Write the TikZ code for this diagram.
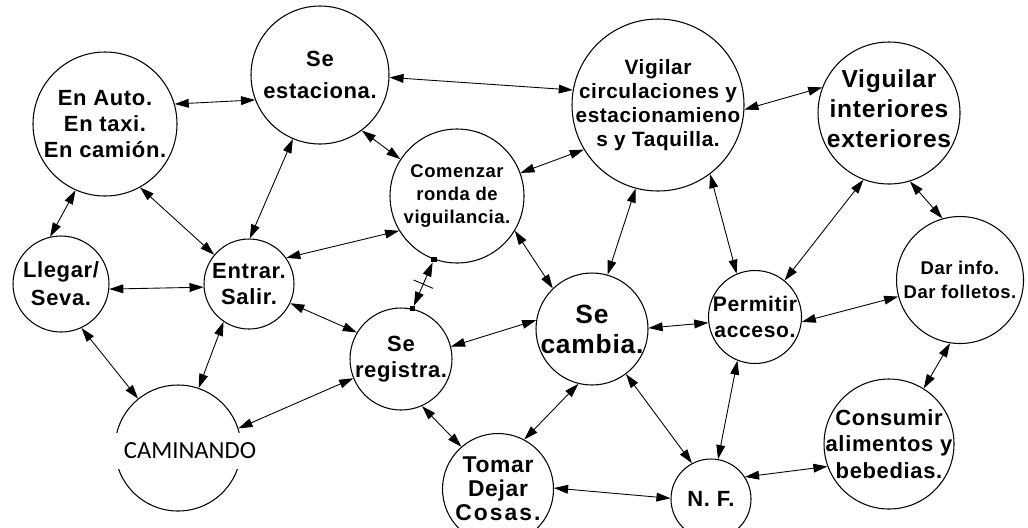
\documentclass[tikz,border=0pt]{standalone}
\usepackage{fontspec}
\setmainfont{Liberation Sans}[LetterSpace=3]
\newfontfamily\calibfont{Carlito}
\usetikzlibrary{arrows.meta,calc}
\newcommand{\szf}[2]{\fontsize{#1}{#2}\selectfont\bfseries}

\begin{document}
\begin{tikzpicture}[x=0.2mm, y=-0.2mm,
    bub/.style={circle, draw, line width=0.6pt, inner sep=0pt, minimum size=2*#1*0.2mm},
    txt/.style={align=center, inner sep=0pt},
    link/.style={<->, >={Triangle[length=8pt,width=5pt]}, line width=0.5pt},
    sqr/.style={rectangle, fill, inner sep=0pt, minimum size=3pt}]
    \useasboundingbox (0,0) rectangle (1028,527);

    % circles
    \node[bub=72] (auto) at (105,124) {};
    \node[bub=69] (estaciona) at (320,75) {};
    \node[bub=86] (vigcirc) at (658,105) {};
    \node[bub=71] (vigint) at (889,113) {};
    \node[bub=67] (ronda) at (457,196) {};
    \node[bub=48] (llegar) at (61,284) {};
    \node[bub=45] (entrar) at (249,284) {};
    \node[bub=63] (caminando) at (178,448) {};
    \node[bub=51] (registra) at (401,359) {};
    \node[bub=56] (cambia) at (592,329) {};
    \node[bub=46.5] (permitir) at (755,317) {};
    \node[bub=63.5] (darinfo) at (960,280) {};
    \node[bub=65] (consumir) at (889,444) {};
    \node[bub=55.5] (tomar) at (498,489) {};
    \node[bub=40] (nf) at (711,499) {};

    % texts
    \node[txt, font=\szf{12.5}{15}] (autotxt) at (auto) {En Auto.\\En taxi.\\En camión.};
    \node[txt, font=\szf{12.5}{18}] (estacionatxt) at (estaciona) {Se\\estaciona.};
    \node[txt, font=\szf{11.8}{13.6}] (vigcirctxt) at (vigcirc) {Vigilar\\circulaciones y\\estacionamieno\\s y Taquilla.};
    \node[txt, font=\szf{14}{17}] (viginttxt) at (889,109) {Viguilar\\interiores\\exteriores};
    \node[txt, font=\szf{10.5}{13}] (rondatxt) at (ronda) {Comenzar\\ronda de\\viguilancia.};
    \node[txt, font=\szf{12.5}{16}] (llegartxt) at (llegar) {Llegar/\\Seva.};
    \node[txt, font=\szf{12.5}{15}] (entrartxt) at (entrar) {Entrar.\\Salir.};
    \node[txt, font=\calibfont\fontsize{14}{16}\selectfont, fill=white,
          inner xsep=5.5pt, inner ysep=5.5pt] (caminandotxt) at (190,451) {CAMINANDO};
    \node[txt, font=\szf{12.5}{15}] (registratxt) at (registra) {Se\\registra.};
    \node[txt, font=\szf{15}{17}] (cambiatxt) at (cambia) {Se\\cambia.};
    \node[txt, font=\szf{12}{15}] (permitirtxt) at (permitir) {Permitir\\acceso.};
    \node[txt, font=\szf{10.5}{13.6}] (darinfotxt) at (darinfo) {Dar info.\\Dar folletos.};
    \node[txt, font=\szf{12.5}{15}] (consumirtxt) at (consumir) {Consumir\\alimentos y\\bebedias.};
    \node[txt, font=\szf{13}{13.7}] (tomartxt) at (tomar) {Tomar\\Dejar\\{\addfontfeature{LetterSpace=9}Cosas.}};
    \node[txt, font=\szf{12.5}{15}] (nftxt) at (nf) {N. F.};

    % connectors
    \draw[link] (auto.16) -- (estaciona.201);
    \draw[link] (auto.246) -- (llegar.103);
    \draw[link] (auto.299) -- (entrar.140);
    \draw[link] (estaciona.247) -- (entrar.89);
    \draw[link] (estaciona.358) -- (vigcirc.170);
    \draw[link] (estaciona.307) -- (ronda.147);
    \draw[link] (ronda.20) -- (vigcirc.211);
    \draw[link] (ronda.211) -- (entrar.35);
    \draw[link] (ronda.329) -- (cambia.134);
    \draw[link] (vigcirc.357) -- (vigint.159);
    \draw[link] (vigcirc.255) -- (cambia.74);
    \draw[link] (vigcirc.307) -- (permitir.113);
    \draw[link] (vigint.249) -- (permitir.51);
    \draw[link] (vigint.287) -- (darinfo.106);
    \draw[link] (llegar.354) -- (entrar.184);
    \draw[link] (llegar.295) -- (caminando.129);
    \draw[link] (entrar.236) -- (caminando.71);
    \draw[link] (entrar.335) -- (registra.149);
    \draw[link] (caminando.18) -- (registra.202);
    \draw[link] (registra.14) -- (cambia.171);
    \draw[link] (registra.294) -- (tomar.131);
    \draw[link] (cambia.256) -- (tomar.62);
    \draw[link] (cambia.1) -- (permitir.187);
    \draw[link] (cambia.307) -- (nf.118);
    \draw[link] (permitir.354) -- (darinfo.195);
    \draw[link] (permitir.248) -- (nf.80);
    \draw[link] (tomar.1) -- (nf.179);
    \draw[link] (nf.33) -- (consumir.200);
    \draw[link] (darinfo.261) -- (consumir.58);

    % ronda -- registra with end squares and tick
    \node[sqr] (sqa) at (ronda.250) {};
    \node[sqr] (sqb) at (registra.77) {};
    \draw[link] (sqa) -- (sqb) coordinate[pos=0.5] (mid);
    \draw[line width=0.5pt] ($(mid)!6pt!90:(sqb)$) -- ($(mid)!6pt!-90:(sqb)$);
\end{tikzpicture}
\end{document}
